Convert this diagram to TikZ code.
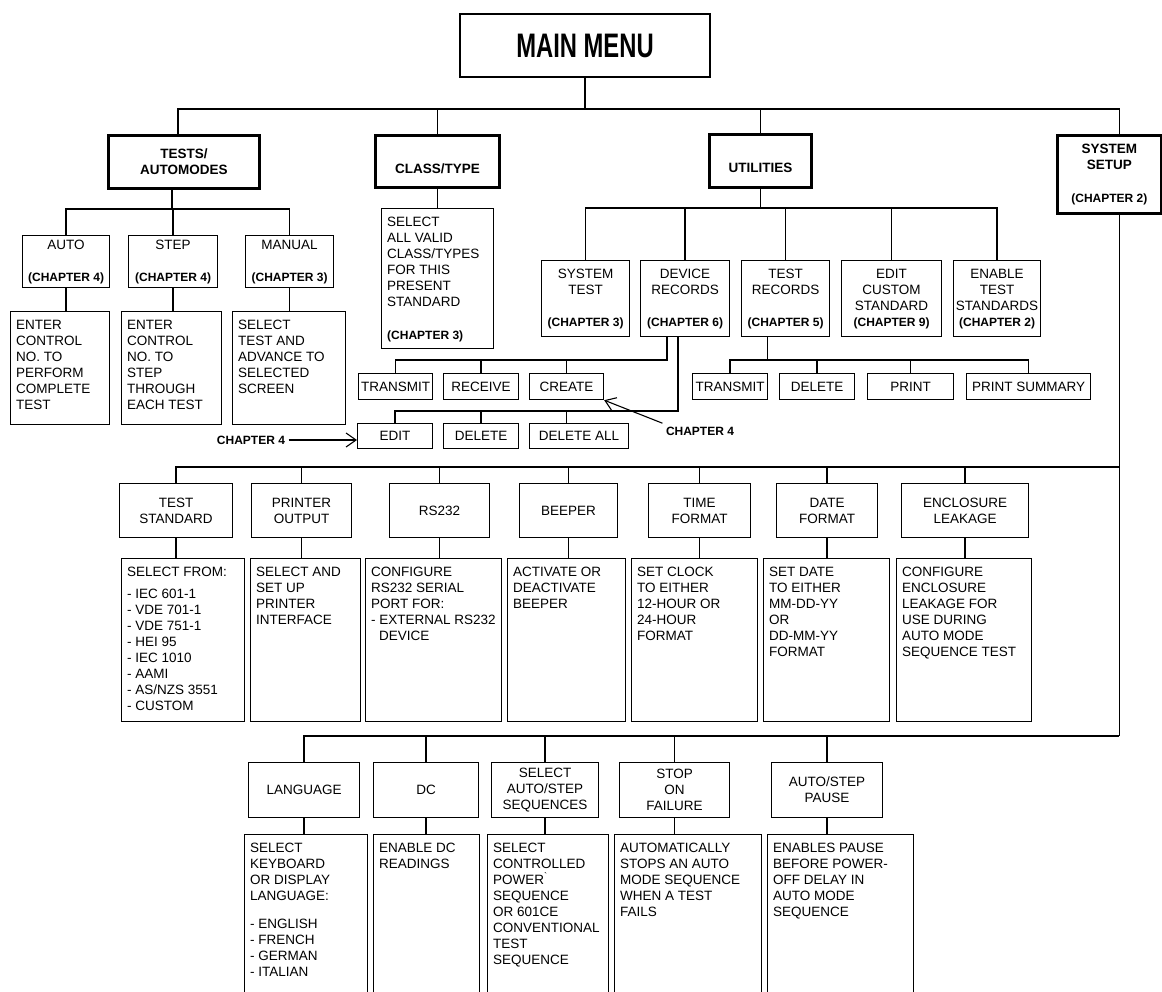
\documentclass[tikz,border=0pt]{standalone}
\usepackage{graphicx}
\usepackage{fontspec}
\setmainfont{Liberation Sans}
\usetikzlibrary{arrows.meta}
\newcommand{\lblfont}{\fontsize{13.5}{16}\selectfont}
\newcommand{\headfont}{\fontsize{13.5}{16}\selectfont\bfseries}
\newcommand{\chapfont}{\fontsize{12}{16}\selectfont\bfseries}

\begin{document}
\begin{tikzpicture}[x=1pt,y=-1pt]
        %
        % `menubox' is used for every menu entry, `headbox' for the four branches.
        % `descbox' is the frame of a description, `desctext' its text.
        % `wire' is used for the tree lines, `pointer' for the chapter arrows.
        \tikzstyle{menubox} = [draw,line width=1.2pt,anchor=north west,inner sep=0pt,align=center,font=\lblfont]
        \tikzstyle{headbox} = [menubox,line width=2.8pt,font=\headfont]
        \tikzstyle{descbox} = [draw,line width=1.2pt,anchor=north west,inner sep=0pt]
        \tikzstyle{desctext} = [anchor=north west,inner sep=0pt,align=left,font=\lblfont]
        \tikzstyle{wire} = [line width=1.6pt]
        \tikzstyle{pointer} = [line width=1.1pt,-{Straight Barb[length=10pt,width=14pt]}]
        \useasboundingbox (0,0) rectangle (1162,991);
        %
        % Main menu
        \node[menubox,line width=2pt,minimum width=250,minimum height=63,font=\bfseries] (menu) at (459,13) {\scalebox{0.7}[1]{\fontsize{34}{36}\selectfont MAIN MENU}};
        %
        % Branches
        \node[headbox,minimum width=151,minimum height=53] (tests) at (107,134) {TESTS/\\AUTOMODES};
        \node[headbox,minimum width=124,minimum height=52,text height=24pt,text depth=0pt] (class) at (374,134) {CLASS/TYPE};
        \node[headbox,minimum width=102,minimum height=53,text height=24pt,text depth=0pt] (util) at (708,133) {UTILITIES};
        \node[headbox,minimum width=104,minimum height=78] (setup) at (1056,134) {SYSTEM\\SETUP\\[17pt]{\chapfont (CHAPTER 2)}};
        %
        % Tests/automodes
        \node[menubox,minimum width=87,minimum height=52] (automode) at (22,235) {AUTO\\[16pt]{\chapfont (CHAPTER 4)}};
        \node[menubox,minimum width=89,minimum height=52] (stepmode) at (128,235) {STEP\\[16pt]{\chapfont (CHAPTER 4)}};
        \node[menubox,minimum width=88,minimum height=52] (manmode) at (245,235) {MANUAL\\[16pt]{\chapfont (CHAPTER 3)}};
        \node[descbox,minimum width=99,minimum height=113] (automoded) at (10,311) {};
        \node[descbox,minimum width=100,minimum height=113] (stepmoded) at (121,311) {};
        \node[descbox,minimum width=113,minimum height=113] (manmoded) at (232,311) {};
        \node[desctext] (automodet) at ([xshift=6pt,yshift=-9pt]automoded.north west) {ENTER\\CONTROL\\NO. TO\\PERFORM\\COMPLETE\\TEST};
        \node[desctext] (stepmodet) at ([xshift=6pt,yshift=-9pt]stepmoded.north west) {ENTER\\CONTROL\\NO. TO\\STEP\\THROUGH\\EACH TEST};
        \node[desctext] (manmodet) at ([xshift=6pt,yshift=-9pt]manmoded.north west) {SELECT\\TEST AND\\ADVANCE TO\\SELECTED\\SCREEN};
        %
        % Class/type
        \node[descbox,minimum width=112,minimum height=140] (classd) at (381,208) {};
        \node[desctext] (classt) at ([xshift=6pt,yshift=-9pt]classd.north west) {SELECT\\ALL VALID\\CLASS/TYPES\\FOR THIS\\PRESENT\\STANDARD\\[17pt]{\chapfont (CHAPTER 3)}};
        %
        % Utilities
        \node[menubox,minimum width=88,minimum height=76] (systest) at (541,260) {SYSTEM\\TEST\\[16pt]{\chapfont (CHAPTER 3)}};
        \node[menubox,minimum width=89,minimum height=76] (devrec) at (640,260) {DEVICE\\RECORDS\\[16pt]{\chapfont (CHAPTER 6)}};
        \node[menubox,minimum width=88,minimum height=76] (testrec) at (741,260) {TEST\\RECORDS\\[16pt]{\chapfont (CHAPTER 5)}};
        \node[menubox,minimum width=100,minimum height=76] (editcust) at (841,260) {EDIT\\CUSTOM\\STANDARD\\{\chapfont (CHAPTER 9)}};
        \node[menubox,minimum width=87,minimum height=76] (enable) at (953,260) {ENABLE\\TEST\\STANDARDS\\{\chapfont (CHAPTER 2)}};
        %
        % Device records
        \node[menubox,minimum width=74,minimum height=26] (trans1) at (358,373) {TRANSMIT};
        \node[menubox,minimum width=75,minimum height=26] (recv) at (443,373) {RECEIVE};
        \node[menubox,minimum width=74,minimum height=26] (create) at (529,373) {CREATE};
        \node[menubox,minimum width=75,minimum height=25] (edit) at (357,423) {EDIT};
        \node[menubox,minimum width=75,minimum height=25] (dele1) at (443,423) {DELETE};
        \node[menubox,minimum width=99,minimum height=25] (delall) at (529,423) {DELETE ALL};
        %
        % Test records
        \node[menubox,minimum width=75,minimum height=26] (trans2) at (692,373) {TRANSMIT};
        \node[menubox,minimum width=75,minimum height=26] (dele2) at (779,373) {DELETE};
        \node[menubox,minimum width=86,minimum height=26] (print) at (867,373) {PRINT};
        \node[menubox,minimum width=124,minimum height=26] (prsum) at (966,373) {PRINT SUMMARY};
        %
        % Chapter pointers
        \node[font=\chapfont] (ch4l) at (251,440) {CHAPTER 4};
        \node[font=\chapfont] (ch4r) at (700,431) {CHAPTER 4};
        \draw[pointer] (ch4l) -- (ch4l -| edit.west);
        \draw[pointer] (ch4r.north west) -- (create.south east);
        %
        % System setup, first row
        \node[menubox,minimum width=113,minimum height=54] (tstd) at (119,483) {TEST\\STANDARD};
        \node[menubox,minimum width=100,minimum height=54] (prnout) at (251,483) {PRINTER\\OUTPUT};
        \node[menubox,minimum width=100,minimum height=54] (rs) at (389,483) {RS232};
        \node[menubox,minimum width=98,minimum height=54] (beep) at (519,483) {BEEPER};
        \node[menubox,minimum width=102,minimum height=54] (time) at (648,483) {TIME\\FORMAT};
        \node[menubox,minimum width=101,minimum height=54] (date) at (776,483) {DATE\\FORMAT};
        \node[menubox,minimum width=127,minimum height=54] (encl) at (901,483) {ENCLOSURE\\LEAKAGE};
        \node[descbox,minimum width=123,minimum height=163] (tstdd) at (121,558) {};
        \node[descbox,minimum width=110,minimum height=163] (prnoutd) at (250,558) {};
        \node[descbox,minimum width=136,minimum height=163] (rsd) at (365,558) {};
        \node[descbox,minimum width=118,minimum height=163] (beepd) at (507,558) {};
        \node[descbox,minimum width=126,minimum height=163] (timed) at (631,558) {};
        \node[descbox,minimum width=126,minimum height=163] (dated) at (763,558) {};
        \node[descbox,minimum width=135,minimum height=163] (encld) at (896,558) {};
        \node[desctext] (tstdt) at ([xshift=6pt,yshift=-9pt]tstdd.north west) {SELECT FROM:\\[6pt]- IEC 601-1\\- VDE 701-1\\- VDE 751-1\\- HEI 95\\- IEC 1010\\- AAMI\\- AS/NZS 3551\\- CUSTOM};
        \node[desctext] (prnoutt) at ([xshift=6pt,yshift=-9pt]prnoutd.north west) {SELECT AND\\SET UP\\PRINTER\\INTERFACE};
        \node[desctext] (rst) at ([xshift=6pt,yshift=-9pt]rsd.north west) {CONFIGURE\\RS232 SERIAL\\PORT FOR:\\- EXTERNAL RS232\\\hspace*{8pt}DEVICE};
        \node[desctext] (beept) at ([xshift=6pt,yshift=-9pt]beepd.north west) {ACTIVATE OR\\DEACTIVATE\\BEEPER};
        \node[desctext] (timet) at ([xshift=6pt,yshift=-9pt]timed.north west) {SET CLOCK\\TO EITHER\\12-HOUR OR\\24-HOUR\\FORMAT};
        \node[desctext] (datet) at ([xshift=6pt,yshift=-9pt]dated.north west) {SET DATE\\TO EITHER\\MM-DD-YY\\OR\\DD-MM-YY\\FORMAT};
        \node[desctext] (enclt) at ([xshift=6pt,yshift=-9pt]encld.north west) {CONFIGURE\\ENCLOSURE\\LEAKAGE FOR\\USE DURING\\AUTO MODE\\SEQUENCE TEST};
        %
        % System setup, second row
        \node[menubox,minimum width=111,minimum height=55] (lang) at (248,762) {LANGUAGE};
        \node[menubox,minimum width=105,minimum height=55] (dc) at (373,762) {DC};
        \node[menubox,minimum width=107,minimum height=55] (selseq) at (491,762) {SELECT\\AUTO/STEP\\SEQUENCES};
        \node[menubox,minimum width=110,minimum height=55] (stop) at (619,762) {STOP\\ON\\FAILURE};
        \node[menubox,minimum width=111,minimum height=55] (pause) at (771,762) {AUTO/STEP\\PAUSE};
        \node[descbox,minimum width=123,minimum height=170] (langd) at (244,834) {};
        \node[descbox,minimum width=106,minimum height=170] (dcd) at (373,834) {};
        \node[descbox,minimum width=121,minimum height=170] (selseqd) at (487,834) {};
        \node[descbox,minimum width=147,minimum height=170] (stopd) at (614,834) {};
        \node[descbox,minimum width=146,minimum height=170] (paused) at (767,834) {};
        \node[desctext] (langt) at ([xshift=6pt,yshift=-9pt]langd.north west) {SELECT\\KEYBOARD\\OR DISPLAY\\LANGUAGE:\\[12pt]- ENGLISH\\- FRENCH\\- GERMAN\\- ITALIAN};
        \node[desctext] (dct) at ([xshift=6pt,yshift=-9pt]dcd.north west) {ENABLE DC\\READINGS};
        \node[desctext] (selseqt) at ([xshift=6pt,yshift=-9pt]selseqd.north west) {SELECT\\CONTROLLED\\POWER\textsuperscript{\textasciigrave}\\SEQUENCE\\OR 601CE\\CONVENTIONAL\\TEST\\SEQUENCE};
        \node[desctext] (stopt) at ([xshift=6pt,yshift=-9pt]stopd.north west) {AUTOMATICALLY\\STOPS AN AUTO\\MODE SEQUENCE\\WHEN A TEST\\FAILS};
        \node[desctext] (pauset) at ([xshift=6pt,yshift=-9pt]paused.north west) {ENABLES PAUSE\\BEFORE POWER-\\OFF DELAY IN\\AUTO MODE\\SEQUENCE};
        %
        % Tree lines
        \coordinate (bus0) at (0,109);
        \coordinate (bus1) at (0,209);
        \coordinate (bus2) at (0,208);
        \coordinate (bus3) at (0,360);
        \coordinate (bus4) at (0,411);
        \coordinate (bus6) at (0,467);
        \coordinate (bus7) at (0,736);
        \coordinate (testsup) at ([xshift=-6pt]tests.north);
        \coordinate (testsdown) at ([xshift=-12pt]tests.south);
        \coordinate (setupup) at ([xshift=10pt]setup.north);
        \coordinate (setupdown) at ([xshift=10pt]setup.south);
        \coordinate (devrecA) at ([xshift=-18pt]devrec.south);
        \coordinate (devrecB) at ([xshift=-7pt]devrec.south);
        \coordinate (testrecdown) at ([xshift=-18pt]testrec.south);
        %
        % Main menu to branches
        \draw[wire] (menu.south) -- (menu.south |- bus0);
        \draw[wire] (testsup) |- (setupup |- bus0) -- (setupup);
        \draw[wire] (class.north) -- (class.north |- bus0);
        \draw[wire] (util.north) -- (util.north |- bus0);
        %
        % Tests/automodes
        \draw[wire] (testsdown) -- (testsdown |- bus1);
        \draw[wire] (automode.north) |- (manmode.north |- bus1) -- (manmode.north);
        \draw[wire] (stepmode.north) -- (stepmode.north |- bus1);
        \draw[wire] (automode.south) -- (automode.south |- automoded.north);
        \draw[wire] (stepmode.south) -- (stepmode.south |- stepmoded.north);
        \draw[wire] (manmode.south) -- (manmode.south |- manmoded.north);
        %
        % Class/type
        \draw[wire] (class.south) -- (class.south |- classd.north);
        %
        % Utilities
        \draw[wire] (util.south) -- (util.south |- bus2);
        \draw[wire] (systest.north) |- (enable.north |- bus2) -- (enable.north);
        \draw[wire] (devrec.north) -- (devrec.north |- bus2);
        \draw[wire] (testrec.north) -- (testrec.north |- bus2);
        \draw[wire] (editcust.north) -- (editcust.north |- bus2);
        %
        % Device records
        \draw[wire] (devrecA) |- (trans1.north |- bus3) -- (trans1.north);
        \draw[wire] (recv.north) -- (recv.north |- bus3);
        \draw[wire] (create.north) -- (create.north |- bus3);
        \draw[wire] (devrecB) |- (edit.north |- bus4) -- (edit.north);
        \draw[wire] (dele1.north) -- (dele1.north |- bus4);
        \draw[wire] (create.north |- delall.north) -- (create.north |- bus4);
        %
        % Test records
        \draw[wire] (testrecdown) -- (testrecdown |- bus3);
        \draw[wire] (trans2.north) |- (prsum.north |- bus3) -- (prsum.north);
        \draw[wire] (dele2.north) -- (dele2.north |- bus3);
        \draw[wire] (print.north) -- (print.north |- bus3);
        %
        % System setup
        \draw[wire] (setupdown) -- (setupdown |- bus7);
        \draw[wire] (tstd.north) |- (setupdown |- bus6);
        \draw[wire] (lang.north) |- (setupdown |- bus7);
        \foreach \n in {prnout,rs,beep,time,date,encl}
            \draw[wire] (\n.north) -- (\n.north |- bus6);
        \foreach \n in {dc,selseq,stop,pause}
            \draw[wire] (\n.north) -- (\n.north |- bus7);
        \foreach \n in {tstd,prnout,rs,beep,time,date,encl,lang,dc,selseq,stop,pause}
            \draw[wire] (\n.south) -- (\n.south |- \n d.north);
        %
        \end{tikzpicture}
\end{document}
